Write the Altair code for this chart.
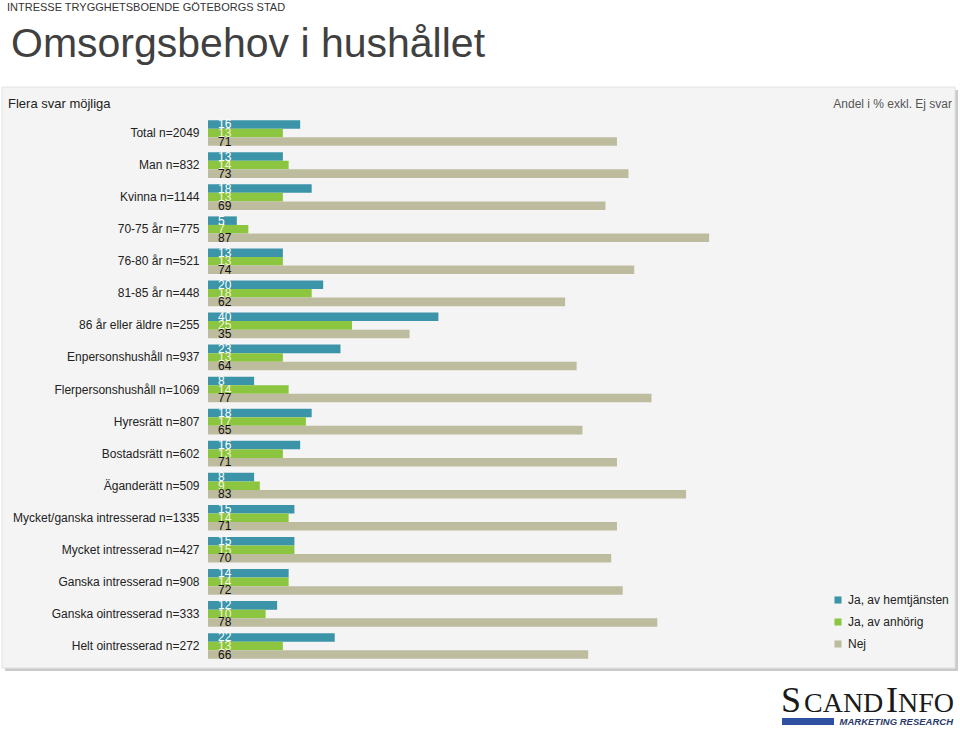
import altair as alt
import pandas as pd

groups = [
    "Total n=2049", "Man n=832", "Kvinna n=1144", "70-75 år n=775", "76-80 år n=521",
    "81-85 år n=448", "86 år eller äldre n=255", "Enpersonshushåll n=937",
    "Flerpersonshushåll n=1069", "Hyresrätt n=807", "Bostadsrätt n=602",
    "Äganderätt n=509", "Mycket/ganska intresserad n=1335", "Mycket intresserad n=427",
    "Ganska intresserad n=908", "Ganska ointresserad n=333", "Helt ointresserad n=272",
]
series = ["Ja, av hemtjänsten", "Ja, av anhörig", "Nej"]
hemtjanst = [16, 13, 18, 5, 13, 20, 40, 23, 8, 18, 16, 8, 15, 15, 14, 12, 22]
anhorig = [13, 14, 13, 7, 13, 18, 25, 13, 14, 17, 13, 9, 14, 15, 14, 10, 13]
nej = [71, 73, 69, 87, 74, 62, 35, 64, 77, 65, 71, 83, 71, 70, 72, 78, 66]
colors = ["#3b94a8", "#8cc540", "#bebc9f"]
label_colors = ["#ffffff", "#f3f6d6", "#111111"]

rows = []
for i, g in enumerate(groups):
    for s, vals in zip(series, [hemtjanst, anhorig, nej]):
        rows.append({"group": g, "series": s, "value": vals[i]})
df = pd.DataFrame(rows)

FONT = "Liberation Sans"
W, H = 576, 545
LEFT, TOP = 208, 117

one = alt.Data(values=[{"a": 1}])

def box(x1, x2, y1, y2, **kw):
    return alt.Chart(one).mark_rect(**kw).encode(
        x=alt.value(x1 - LEFT), x2=alt.value(x2 - LEFT),
        y=alt.value(y1 - TOP), y2=alt.value(y2 - TOP))

def txt(s, x, y, **kw):
    return alt.Chart(one).mark_text(**kw).encode(
        x=alt.value(x - LEFT), y=alt.value(y - TOP), text=alt.value(s))

shadow = box(5, 958, 90, 671, color="#cacaca")
panel = box(2, 955, 87, 668, color="#f4f4f4", stroke="#e2e2e2", strokeWidth=1)

heading = txt("INTRESSE TRYGGHETSBOENDE GÖTEBORGS STAD", 7, 11, font=FONT, fontSize=11,
              align="left", baseline="alphabetic", color="#333333")
title = txt("Omsorgsbehov i hushållet", 11, 57, font=FONT, fontSize=41,
            align="left", baseline="alphabetic", color="#404040")
sub = txt("Flera svar möjliga", 8, 108, font=FONT, fontSize=13,
          align="left", baseline="alphabetic", color="#222222")
note = txt("Andel i % exkl. Ej svar", 952, 108, font=FONT, fontSize=12,
           align="right", baseline="alphabetic", color="#555555")

y_enc = alt.Y("group:N", sort=groups,
              scale=alt.Scale(paddingInner=0.2, paddingOuter=0.1),
              axis=alt.Axis(title=None, domain=False, ticks=False, labelPadding=9,
                            labelFont=FONT, labelFontSize=12, labelColor="#222222",
                            labelLimit=220, zindex=1))
yoff = alt.YOffset("series:N", sort=series,
                   scale=alt.Scale(paddingInner=0, paddingOuter=0))
x_enc = alt.X("value:Q", scale=alt.Scale(domain=[0, 100]), axis=None)

bars = alt.Chart(df).mark_bar().encode(
    x=x_enc, y=y_enc, yOffset=yoff,
    color=alt.Color("series:N", sort=series,
                    scale=alt.Scale(domain=series, range=colors),
                    legend=alt.Legend(title=None, orient="none", legendX=624, legendY=477,
                                      symbolType="square", symbolSize=50,
                                      symbolStrokeWidth=0, labelFont=FONT,
                                      labelFontSize=12, labelColor="#222222",
                                      labelOffset=4, rowPadding=10, padding=0)),
)

label_layers = []
for s, c in zip(series, label_colors):
    label_layers.append(
        alt.Chart(df).transform_filter(alt.datum.series == s).mark_text(
            align="left", baseline="middle", dx=10, font=FONT, fontSize=12, color=c
        ).encode(x=alt.value(0), y=y_enc, yOffset=yoff, text="value:Q")
    )

# logo
logo = [
    txt("S", 781, 712, font="Liberation Serif", fontSize=36, align="left",
        baseline="alphabetic", color="#1a1a1a"),
    txt("CAND", 804, 712, font="Liberation Serif", fontSize=28, align="left",
        baseline="alphabetic", color="#1a1a1a"),
    txt("I", 886, 712, font="Liberation Serif", fontSize=36, align="left",
        baseline="alphabetic", color="#1a1a1a"),
    txt("NFO", 898, 712, font="Liberation Serif", fontSize=28, align="left",
        baseline="alphabetic", color="#1a1a1a"),
    box(782, 834, 718, 725, color="#2f4fa0"),
    txt("MARKETING RESEARCH", 953, 725, font=FONT, fontSize=9.5, fontStyle="italic",
        fontWeight="bold", align="right", baseline="alphabetic", color="#2a3a6a"),
]

chart = alt.layer(shadow, panel, heading, title, sub, note, bars, *label_layers, *logo).properties(
    width=W, height=H,
    autosize=alt.AutoSizeParams(type="none"),
    padding={"left": LEFT, "top": TOP, "right": 960 - LEFT - W, "bottom": 729 - TOP - H},
    background="white",
).configure_view(stroke=None)

chart.save("out.html", embed_options={"renderer": "svg", "actions": False})
